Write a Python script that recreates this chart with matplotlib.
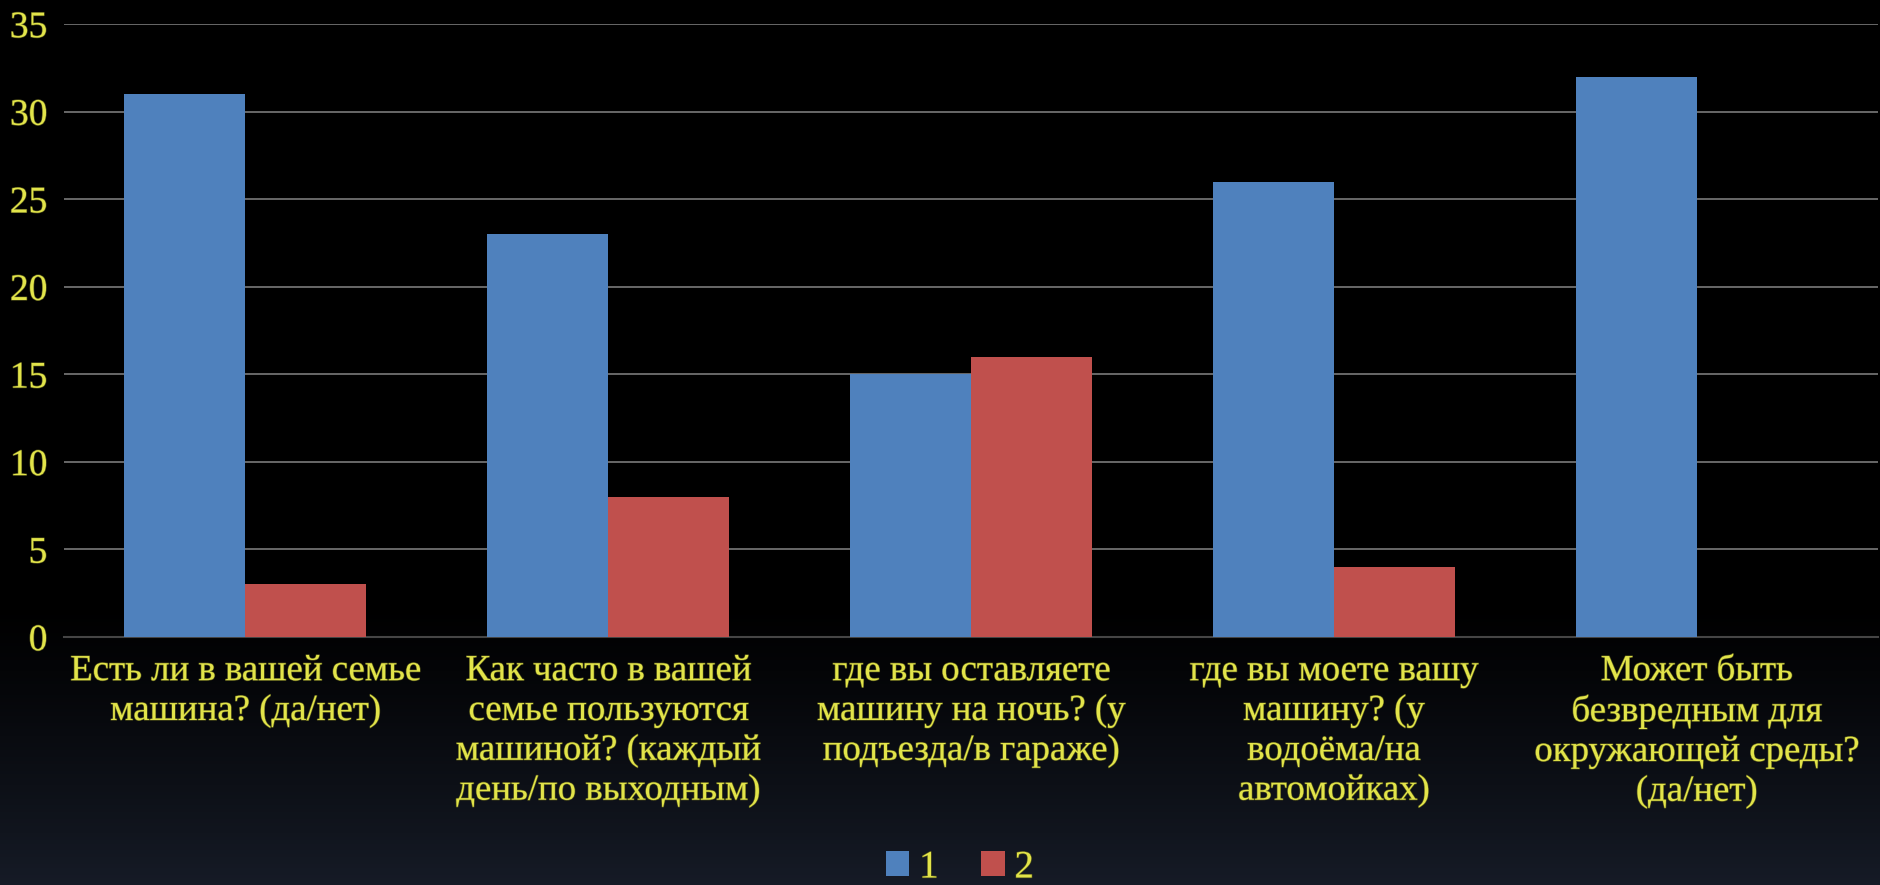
import matplotlib
matplotlib.use('Agg')
import matplotlib.pyplot as plt
import matplotlib.patheffects as pe
import numpy as np

# Data
questions = [
    'Есть ли в вашей семье\nмашина? (да/нет)',
    'Как часто в вашей\nсемье пользуются\nмашиной? (каждый\nдень/по выходным)',
    'где вы оставляете\nмашину на ночь? (у\nподъезда/в гараже)',
    'где вы моете вашу\nмашину? (у\nводоёма/на\nавтомойках)',
    'Может быть\nбезвредным для\nокружающей среды?\n(да/нет)',
]
answers_1 = [31, 23, 15, 26, 32]
answers_2 = [3, 8, 16, 4, 0]
series_names = ['1', '2']

yellow = '#e2e44a'
blue = '#4f81bd'
red = '#c0504d'
plt.rcParams['font.family'] = ['Liberation Serif', 'DejaVu Serif']
glow = [pe.withStroke(linewidth=0.9, foreground='#55561a')]

fig = plt.figure(figsize=(18.81, 8.85), dpi=100)

# gradient background: black at the top, dark slate at the bottom
bg = fig.add_axes([0, 0, 1, 1], zorder=-10)
grad = np.zeros((256, 1, 3))
t = np.linspace(0, 1, 256)
w = np.clip((t - 0.68) / 0.32, 0, 1) ** 1.2
grad[:, 0, 0] = w * 0.085
grad[:, 0, 1] = w * 0.105
grad[:, 0, 2] = w * 0.15
bg.imshow(grad, aspect='auto', extent=[0, 1, 1, 0])
bg.axis('off')

ax = fig.add_axes([64/1881, 1 - 637/885, (1878-64)/1881, (637-24)/885])
ax.set_facecolor('none')

x = np.arange(len(questions))
bw = 1/3
ax.bar(x - bw/2, answers_1, bw, color=blue, label=series_names[0], zorder=3)
ax.bar(x + bw/2, answers_2, bw, color=red, label=series_names[1], zorder=3)

ax.set_xlim(-0.5, len(questions) - 0.5)
ax.set_ylim(0, 35)
ax.set_yticks(range(0, 36, 5))
ax.yaxis.grid(True, color='#707070', lw=1.3, zorder=0)
ax.set_axisbelow(True)
for s in ['top', 'right', 'left']:
    ax.spines[s].set_visible(False)
ax.spines['bottom'].set_color('#454545')
ax.spines['bottom'].set_linewidth(1.5)

ax.set_xticks(x)
ax.set_xticklabels(questions, fontsize=26.5, color=yellow, linespacing=1.2)
for lbl in ax.get_xticklabels():
    lbl.set_path_effects(glow)
ax.tick_params(axis='x', length=0, pad=12)
ax.tick_params(axis='y', length=0, pad=12, labelsize=27, labelcolor=yellow)
for lbl in ax.get_yticklabels():
    lbl.set_path_effects(glow)

leg = fig.legend(loc='center', bbox_to_anchor=(960/1881, 1 - 868/885), ncol=2,
                 frameon=False, fontsize=28, labelcolor=yellow,
                 handlelength=0.6, handleheight=0.6, handletextpad=0.25,
                 columnspacing=1.1)
for txt in leg.get_texts():
    txt.set_path_effects(glow)

fig.savefig('out.png', dpi=100, facecolor='black')
